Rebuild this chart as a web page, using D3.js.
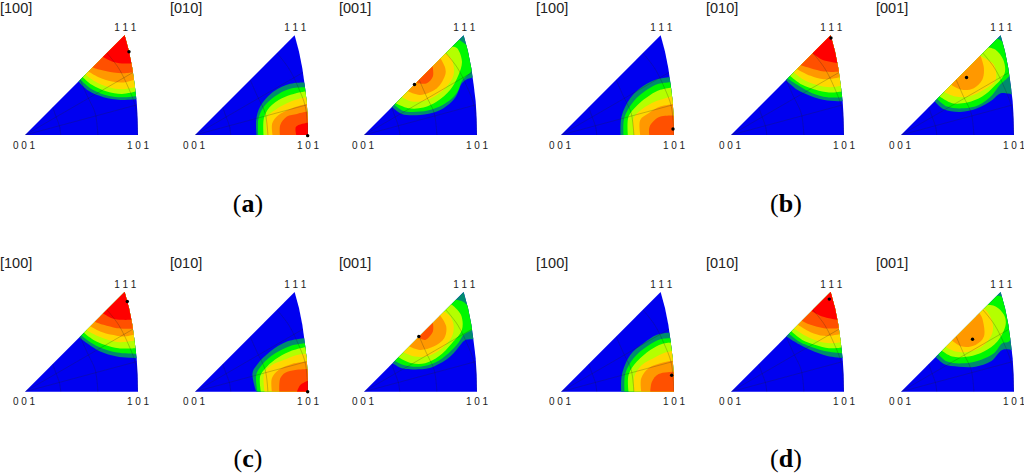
<!DOCTYPE html>
<html>
<head>
<meta charset="utf-8">
<script src="https://cdn.jsdelivr.net/npm/d3@7"></script>
<style>
  body { margin: 0; background: #fff; }
  svg { display: block; }
  text { font-family: "Liberation Sans", Arial, sans-serif; fill: #222; }
  .sub { font-family: "Liberation Serif", "Times New Roman", serif; font-size: 26px; fill: #000; }
</style>
</head>
<body>
<svg id="chart" width="1024" height="473"></svg>
<script>
// triangle coordinates: 001 is at 0,0 and 101 at 338,0, 111 at 298,298
const extent = 338;
const edgeArc = [[338,0],[337,50],[334,100],[328,150],[321,200],[311,250],[298,298]];
const spokes = [[[0,0],[334,90]], [[0,0],[323,187]]];
const arcs = [
  [[107,0],[103,27],[92,57],[83,83]],
  [[218,0],[210,65],[187,115],[165,165]],
  [[338,0],[330,85],[310,140],[280,200],[245,245]],
];

const levels = ["#008c6e", "#00f800", "#b4ff00", "#ffd800", "#ff9800", "#ff5000", "#ff0000"];
const poleLabels = ["[100]", "[010]", "[001]"];
const cornerLabels = ["0 0 1", "1 0 1", "1 1 1"];
const subLabels = ["a", "b", "c", "d"];

// contour outlines per panel, lowest level first
const a100 = [
  [[160,160],[190,132],[235,113],[285,105],[334,107]],
  [[166,166],[195,140],[240,120],[290,113],[333,117]],
  [[173,173],[200,150],[245,130],[290,123],[331,130]],
  [[181,181],[210,160],[250,143],[290,137],[329,143]],
  [[190,190],[220,173],[260,160],[295,157],[326,165]],
  [[202,202],[225,195],[265,187],[295,185],[323,188]],
  [[233,233],[260,220],[290,214],[318,214]],
];
const a010 = [
  [[184,0],[183,45],[195,85],[235,130],[285,153],[325,157]],
  [[189,0],[190,50],[210,90],[250,123],[290,140],[326,143]],
  [[205,0],[206,50],[223,83],[260,110],[295,123],[329,130]],
  [[215,0],[215,53],[240,75],[275,95],[305,107],[331,113]],
  [[232,0],[231,35],[250,60],[285,78],[310,87],[334,93]],
  [[254,0],[255,30],[275,55],[305,63],[336,70]],
  [[303,0],[302,25],[336,37]],
];
const a001 = [
  [[85,83],[113,63],[168,60],[218,70],[255,93],[275,115],[293,155],[308,167],[330,173]],
  [[91,90],[118,72],[168,70],[213,80],[258,105],[280,130],[295,165],[323,193],[340,245],[306,270],[284,286]],
  [[95,95],[133,80],[178,82],[218,100],[258,135],[283,180],[293,220],[278,260],[263,265]],
  [[115,112],[143,100],[183,103],[218,120],[248,145],[268,180],[263,225],[243,245]],
  [[133,130],[168,120],[218,140],[243,180],[243,200],[228,230]],
  [[160,155],[188,155],[206,175],[205,208]],
];
const b100 = [
  [[178,0],[181,55],[207,110],[247,147],[287,167],[325,173]],
  [[187,0],[189,50],[217,100],[257,135],[292,153],[327,158]],
  [[200,0],[202,55],[229,90],[267,120],[297,135],[331,142]],
  [[219,0],[217,50],[242,77],[282,100],[312,110],[335,117]],
  [[237,0],[237,45],[262,65],[297,85],[337,93]],
  [[264,0],[265,25],[292,53],[337,58]],
];
const b010 = [
  [[166,162],[198,135],[238,117],[288,103],[335,101]],
  [[170,168],[203,147],[243,125],[288,113],[333,113]],
  [[178,176],[213,150],[253,135],[293,127],[332,130]],
  [[188,187],[223,162],[263,148],[298,143],[329,147]],
  [[198,197],[238,177],[278,167],[326,173]],
  [[210,208],[238,200],[278,190],[323,189]],
  [[243,245],[273,225],[318,215]],
];
const b001 = [
  [[100,102],[128,77],[178,69],[228,80],[273,105],[298,125],[330,122]],
  [[108,108],[138,85],[188,80],[233,90],[273,120],[296,150],[330,185],[345,240],[310,275],[290,287]],
  [[116,115],[153,95],[198,97],[243,115],[278,145],[310,185],[306,225],[283,255],[263,262]],
  [[131,127],[163,115],[203,115],[248,135],[283,165],[278,210],[258,225],[243,233]],
  [[153,148],[183,135],[218,140],[243,165],[248,200],[238,236]],
];
const c100 = [
  [[162,163],[190,142],[225,120],[275,105],[333,100]],
  [[168,169],[195,148],[230,130],[275,117],[331,113]],
  [[175,177],[205,155],[240,140],[280,130],[330,130]],
  [[183,185],[215,167],[250,155],[285,148],[328,153]],
  [[193,197],[225,180],[260,170],[295,165],[325,170]],
  [[205,210],[235,200],[275,190],[323,188]],
  [[233,235],[260,220],[290,215],[317,215]],
];
const c010 = [
  [[183,0],[172,55],[185,80],[225,120],[275,150],[325,160]],
  [[187,0],[183,50],[200,80],[240,115],[285,137],[327,145]],
  [[197,0],[195,47],[215,75],[250,103],[290,123],[329,133]],
  [[208,0],[207,55],[230,80],[265,95],[305,110],[332,113]],
  [[230,0],[230,40],[250,65],[290,83],[334,90]],
  [[252,0],[255,40],[270,57],[300,65],[336,68]],
  [[305,0],[315,20],[336,32]],
];
const c001 = [
  [[86,85],[113,70],[163,67],[208,75],[258,105],[288,140],[303,155],[328,157]],
  [[93,92],[118,80],[168,75],[213,87],[253,115],[283,147],[298,170],[328,190],[338,230],[311,257],[295,270],[275,275]],
  [[103,103],[143,85],[183,85],[223,105],[263,145],[293,185],[290,230],[263,260]],
  [[118,117],[153,105],[193,107],[233,130],[263,165],[268,200],[258,225],[240,240]],
  [[136,135],[168,125],[208,135],[240,160],[246,195],[228,228]],
  [[163,162],[183,155],[206,180],[206,206]],
];
const d100 = [
  [[180,0],[182,50],[207,110],[247,145],[287,170],[325,177]],
  [[190,0],[192,53],[217,100],[257,135],[297,157],[327,160]],
  [[202,0],[202,50],[227,90],[267,125],[302,143],[331,147]],
  [[219,0],[219,45],[242,80],[282,103],[312,117],[334,122]],
  [[240,0],[240,40],[262,70],[297,85],[337,93]],
  [[267,0],[272,30],[292,53],[337,60]],
];
const d010 = [
  [[166,165],[198,145],[238,125],[288,107],[335,101]],
  [[173,173],[203,150],[243,133],[288,120],[334,115]],
  [[181,180],[213,155],[253,140],[293,130],[332,132]],
  [[188,190],[223,167],[263,150],[298,145],[329,148]],
  [[200,200],[238,178],[278,167],[326,172]],
  [[210,213],[238,200],[278,190],[323,190]],
  [[243,240],[273,225],[318,215]],
];
const d001 = [
  [[103,105],[128,83],[173,75],[223,75],[268,90],[303,125],[330,125]],
  [[111,113],[138,90],[188,85],[238,95],[278,115],[303,145],[323,150],[345,215],[318,272],[300,285],[285,288]],
  [[121,123],[153,105],[203,105],[248,120],[288,150],[313,200],[308,230],[283,255],[258,260]],
  [[131,135],[163,120],[208,120],[248,140],[273,175],[273,210],[253,245],[243,250]],
  [[151,155],[183,135],[223,140],[248,165],[243,220],[235,235]],
];

const contours = [a100, a010, a001, b100, b010, b001, c100, c010, c001, d100, d010, d001];
const dots = [
  [311,249],[337,-2],[151,151],
  [335,18],[299,290],[196,172],
  [306,270],[337,0],[164,165],
  [331,49],[294,277],[214,157],
];

const panelX = [25, 195, 364, 561, 731, 901];
const panelY = [135, 391.7];
const labelY = [13.2, 267.5];
const subX = [248, 786];
const subY = [212, 467];

const svg = d3.select("#chart");
const x = d3.scaleLinear().domain([0, extent]).range([0, 113]);
const y = d3.scaleLinear().domain([0, extent]).range([0, -113]);

const curve = d3.line().x((d) => x(d[0])).y((d) => y(d[1])).curve(d3.curveCatmullRom);
const straight = d3.line().x((d) => x(d[0])).y((d) => y(d[1]));
const outline = straight([[0,0]].concat(edgeArc)) + "Z";

// the outlines stop at the triangle edge, so close them outside it and let the clip cut
function region(points) {
  const first = points[0];
  const last = points[points.length - 1];
  let closing;
  if (first[1] <= 5) {
    closing = [last, [400,last[1]], [400,-50], [first[0],-50], first];
  } else if (last[1] >= last[0] - 15) {
    closing = [last, [0,400], first];
  } else {
    closing = [last, [400,last[1]], [400,400], [0,400], first];
  }
  return curve(points) + straight(closing).replace("M", "L") + "Z";
}

svg.append("clipPath").attr("id", "tri").append("path").attr("d", outline);

contours.forEach((bands, i) => {
  const row = Math.floor(i / 6);
  const g = svg.append("g").attr(
    "transform",
    "translate(" + panelX[i % 6] + "," + panelY[row] + ")"
  );

  g.append("path").attr("d", outline).attr("fill", "#0000f0");

  const inner = g.append("g").attr("clip-path", "url(#tri)");
  inner
    .selectAll("path.band")
    .data(bands)
    .join("path")
    .attr("class", "band")
    .attr("d", region)
    .attr("fill", (d, j) => levels[j]);

  inner
    .selectAll("path.grid")
    .data(arcs)
    .join("path")
    .attr("class", "grid")
    .attr("d", curve)
    .attr("fill", "none")
    .attr("stroke", "#222")
    .attr("stroke-opacity", 0.4)
    .attr("stroke-width", 0.6);

  inner
    .selectAll("path.spoke")
    .data(spokes)
    .join("path")
    .attr("class", "spoke")
    .attr("d", straight)
    .attr("fill", "none")
    .attr("stroke", "#222")
    .attr("stroke-opacity", 0.4)
    .attr("stroke-width", 0.6);

  g.append("circle")
    .attr("cx", x(dots[i][0]))
    .attr("cy", y(dots[i][1]))
    .attr("r", 1.7)
    .attr("fill", "#000");

  g.append("text")
    .attr("x", -25)
    .attr("y", labelY[row] - panelY[row])
    .attr("font-size", 14.5)
    .text(poleLabels[i % 3]);

  // corner labels
  g.append("text").attr("x", x(-3)).attr("y", 13.5).attr("font-size", 10)
    .attr("text-anchor", "middle").text(cornerLabels[0]);
  g.append("text").attr("x", x(extent)).attr("y", 13.5).attr("font-size", 10)
    .attr("text-anchor", "middle").text(cornerLabels[1]);
  g.append("text").attr("x", x(300)).attr("y", -104).attr("font-size", 10)
    .attr("text-anchor", "middle").text(cornerLabels[2]);
});

subLabels.forEach((s, i) => {
  const t = svg.append("text")
    .attr("class", "sub")
    .attr("x", subX[i % 2])
    .attr("y", subY[Math.floor(i / 2)])
    .attr("text-anchor", "middle");
  t.append("tspan").text("(");
  t.append("tspan").attr("font-weight", "bold").text(s);
  t.append("tspan").text(")");
});
</script>
</body>
</html>
